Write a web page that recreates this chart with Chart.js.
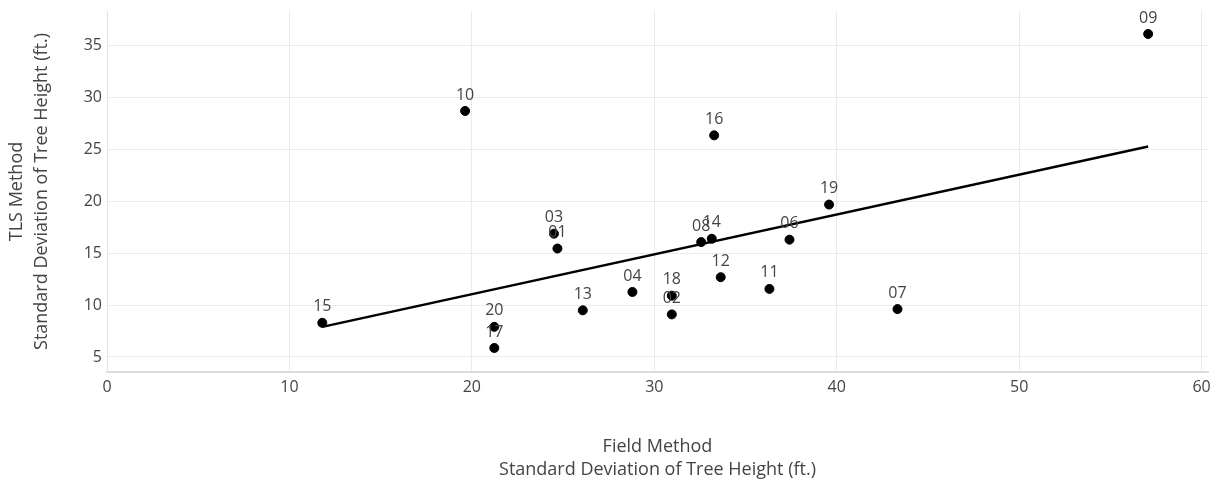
<!DOCTYPE html>
<html>
<head>
<meta charset="utf-8">
<script src="https://cdn.jsdelivr.net/npm/chart.js@4"></script>
<style>
    html, body { margin: 0; padding: 0; background: #fff; }
    #wrap { width: 1216px; height: 487px; position: relative; }
</style>
</head>
<body>
<div id="wrap"><canvas id="scatterChart"></canvas></div>
<script>
// plot ids and values
const plotIds = ['01', '02', '03', '04', '06', '07', '08', '09', '10', '11',
                 '12', '13', '14', '15', '16', '17', '18', '19', '20'];
const fieldSd = [24.69, 30.96, 24.50, 28.80, 37.41, 43.33, 32.57, 57.07, 19.63, 36.31,
                 33.64, 26.08, 33.15, 11.80, 33.28, 21.23, 30.96, 39.58, 21.23];
const tlsSd = [15.44, 9.10, 16.87, 11.26, 16.29, 9.61, 16.06, 36.09, 28.68, 11.55,
               12.68, 9.49, 16.38, 8.29, 26.33, 5.87, 10.90, 19.67, 7.90];

// fitted line end points
const trendX = [11.80, 57.07];
const trendY = [7.90, 25.26];

const xTicks = [0, 10, 20, 30, 40, 50, 60];
const yTicks = [5, 10, 15, 20, 25, 30, 35];

const fontFamily = "'Open Sans', sans-serif";
const textColor = '#444';

// writes each plot id just above its point
const pointLabels = {
    id: 'pointLabels',
    afterDatasetsDraw(chart) {
        const meta = chart.getDatasetMeta(0);
        const ctx = chart.ctx;
        ctx.save();
        ctx.font = '16px ' + fontFamily;
        ctx.fillStyle = textColor;
        ctx.textAlign = 'center';
        ctx.textBaseline = 'middle';
        meta.data.forEach((pt, i) => {
            ctx.fillText(plotIds[i], pt.x, pt.y - 16);
        });
        ctx.restore();
    }
};

const ctx = document.getElementById('scatterChart').getContext('2d');
new Chart(ctx, {
    type: 'scatter',
    data: {
        datasets: [{
            label: 'Plots',
            data: fieldSd.map((x, i) => ({ x: x, y: tlsSd[i] })),
            backgroundColor: '#000',
            borderColor: '#000',
            pointRadius: 4.5,
            pointHoverRadius: 4.5,
            order: 2
        }, {
            type: 'line',
            label: 'Fit',
            data: trendX.map((x, i) => ({ x: x, y: trendY[i] })),
            borderColor: '#000',
            borderWidth: 2.5,
            pointRadius: 0,
            fill: false,
            order: 1
        }]
    },
    options: {
        responsive: true,
        maintainAspectRatio: false,
        animation: false,
        layout: { padding: { top: 11, right: 8, left: 0, bottom: 0 } },
        plugins: {
            legend: { display: false },
            tooltip: { enabled: false }
        },
        scales: {
            x: {
                type: 'linear',
                min: 0,
                max: 60.35,
                afterBuildTicks: scale => { scale.ticks = xTicks.map(v => ({ value: v })); },
                afterFit: scale => {
                    scale.height = 115;
                    scale.paddingLeft = 0;
                    scale.paddingRight = 0;
                },
                grid: { color: '#ebebeb', lineWidth: 1, drawTicks: false },
                border: { color: '#dcdcdc', width: 2 },
                ticks: {
                    color: textColor,
                    font: { family: fontFamily, size: 16 },
                    padding: 6,
                    maxRotation: 0
                },
                title: {
                    display: true,
                    text: ['Field Method', 'Standard Deviation of Tree Height (ft.)'],
                    color: textColor,
                    font: { family: fontFamily, size: 18, lineHeight: 1.28 },
                    padding: { top: 0, bottom: 6 }
                }
            },
            y: {
                type: 'linear',
                min: 3.555,
                max: 38.3,
                afterBuildTicks: scale => { scale.ticks = yTicks.map(v => ({ value: v })); },
                afterFit: scale => {
                    scale.width = 107;
                    scale.paddingTop = 0;
                    scale.paddingBottom = 0;
                },
                grid: { color: '#ebebeb', lineWidth: 1, drawTicks: false },
                border: { color: '#e3e3e3', width: 1 },
                ticks: {
                    color: textColor,
                    font: { family: fontFamily, size: 16 },
                    padding: 5
                },
                title: {
                    display: true,
                    text: ['TLS Method', 'Standard Deviation of Tree Height (ft.)'],
                    color: textColor,
                    font: { family: fontFamily, size: 18, lineHeight: 1.36 },
                    padding: { top: 5, bottom: 0 }
                }
            }
        }
    },
    plugins: [pointLabels]
});
</script>
</body>
</html>
